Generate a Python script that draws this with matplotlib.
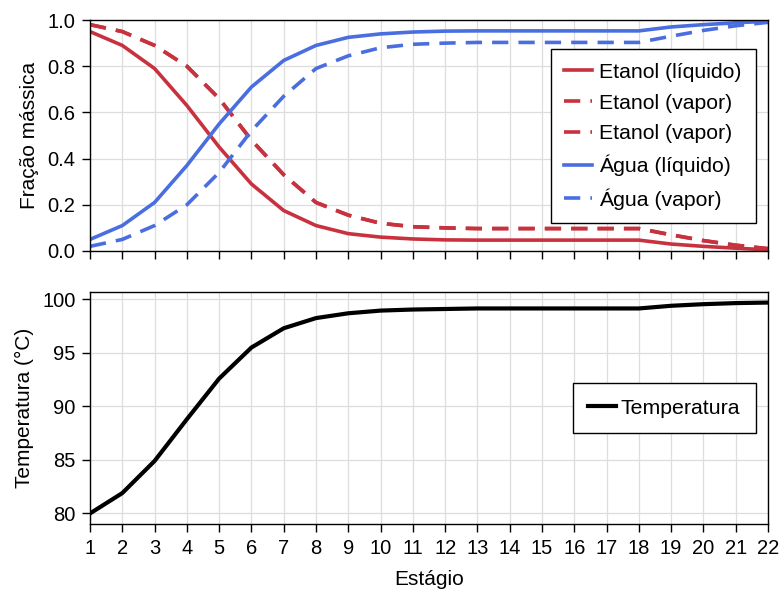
import matplotlib
matplotlib.use("Agg")
import matplotlib.pyplot as plt

plt.rcParams['font.family'] = ['Liberation Sans', 'DejaVu Sans']

estagios = list(range(1, 23))

etanol_liq = [0.95, 0.89, 0.79, 0.63, 0.45, 0.29, 0.175, 0.11, 0.075, 0.06, 0.052,
              0.048, 0.047, 0.047, 0.047, 0.047, 0.047, 0.047, 0.03, 0.02, 0.012, 0.005]
etanol_vap = [0.98, 0.95, 0.89, 0.80, 0.66, 0.48, 0.33, 0.21, 0.155, 0.12, 0.105,
              0.10, 0.097, 0.097, 0.097, 0.097, 0.097, 0.097, 0.07, 0.045, 0.025, 0.01]
agua_liq = [0.05, 0.11, 0.21, 0.37, 0.55, 0.71, 0.825, 0.89, 0.925, 0.94, 0.948,
            0.952, 0.953, 0.953, 0.953, 0.953, 0.953, 0.953, 0.97, 0.98, 0.988, 0.995]
agua_vap = [0.02, 0.05, 0.11, 0.20, 0.34, 0.52, 0.67, 0.79, 0.845, 0.88, 0.895,
            0.90, 0.903, 0.903, 0.903, 0.903, 0.903, 0.903, 0.93, 0.955, 0.975, 0.99]
temperatura = [80.0, 81.9, 84.9, 88.8, 92.6, 95.5, 97.3, 98.25, 98.7, 98.95, 99.05,
               99.1, 99.15, 99.15, 99.15, 99.15, 99.15, 99.15, 99.4, 99.55, 99.65, 99.7]

vermelho = '#C8323F'
azul = '#4A6EE0'

fig = plt.figure(figsize=(7.82, 5.89), dpi=100)
ax1 = fig.add_axes([0.1151, 0.5739, 0.867, 0.3921])
ax2 = fig.add_axes([0.1151, 0.1104, 0.867, 0.3938], sharex=ax1)

lw = 2.6
dash = (0, (4.5, 2.8))
ax1.plot(estagios, etanol_liq, color=vermelho, lw=lw, label='Etanol (líquido)')
ax1.plot(estagios, etanol_vap, color=vermelho, lw=lw, ls=dash, label='Etanol (vapor)')
ax1.plot(estagios, etanol_vap, color=vermelho, lw=lw, ls=dash, label='Etanol (vapor)')
ax1.plot(estagios, agua_liq, color=azul, lw=lw, label='Água (líquido)')
ax1.plot(estagios, agua_vap, color=azul, lw=lw, ls=dash, label='Água (vapor)')
ax1.set_ylim(0, 1.0)
ax1.set_ylabel('Fração mássica', fontsize=15, labelpad=6)
leg1 = ax1.legend(loc='upper right', bbox_to_anchor=(0.982, 0.8745), fontsize=15.3,
                  fancybox=False, framealpha=1, edgecolor='black', handlelength=1.3,
                  handletextpad=0.35, borderpad=0.65, labelspacing=0.55, borderaxespad=0)
leg1.get_frame().set_linewidth(1.0)
plt.setp(ax1.get_xticklabels(), visible=False)

ax2.plot(estagios, temperatura, color='black', lw=3.0, label='Temperatura')
ax2.set_ylabel('Temperatura (°C)', fontsize=15, labelpad=6)
ax2.set_xlabel('Estágio', fontsize=15, labelpad=9)
leg2 = ax2.legend(loc='center right', bbox_to_anchor=(0.982, 0.5), fontsize=15.3,
                  fancybox=False, framealpha=1, edgecolor='black', handlelength=1.3,
                  handletextpad=0.25, borderpad=0.72, borderaxespad=0)
leg2.get_frame().set_linewidth(1.0)

for ax in (ax1, ax2):
    ax.set_xlim(1, 22)
    ax.set_xticks(estagios)
    ax.grid(True, color='#dddddd', lw=0.9)
    ax.set_axisbelow(True)
    ax.tick_params(direction='out', length=6, width=1, labelsize=14.5, pad=4.5)
    for s in ax.spines.values():
        s.set_linewidth(1.0)

ax2.set_yticks([80, 85, 90, 95, 100])

fig.savefig('out.png', dpi=100)
